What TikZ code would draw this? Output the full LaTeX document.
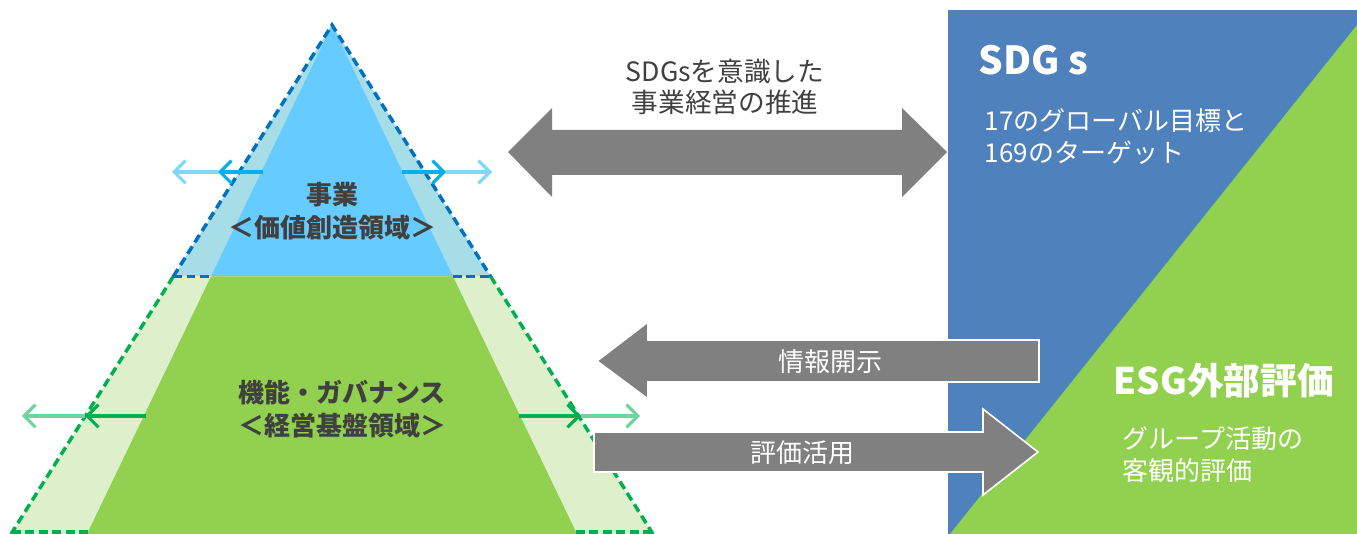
\documentclass[tikz,border=0pt]{standalone}
\usepackage{fontspec}
\setmainfont{Noto Sans CJK JP}
\usetikzlibrary{arrows.meta}
\definecolor{txtgray}{HTML}{404040}
\definecolor{arrgray}{HTML}{808080}
\definecolor{lightteal}{HTML}{A6DDE6}
\definecolor{skyblue}{HTML}{66CCFF}
\definecolor{lightgreen}{HTML}{DEEFCC}
\definecolor{leafgreen}{HTML}{92D050}
\definecolor{dashblue}{HTML}{0070C0}
\definecolor{dashgreen}{HTML}{00B050}
\definecolor{arrblue}{HTML}{00B0F0}
\definecolor{arrbluelt}{HTML}{80D8F8}
\definecolor{arrgreen}{HTML}{00B050}
\definecolor{arrgreenlt}{HTML}{70D49C}
\definecolor{sdgblue}{HTML}{4F81BD}
\begin{document}
\begin{tikzpicture}[x=0.75pt,y=-0.75pt,
  dashline/.style={line width=2.6pt,dash pattern=on 6.5pt off 3.6pt},
  smallarrow/.style={line width=2.3pt,-{Straight Barb[length=8.5pt,width=17pt,line width=2.3pt]}},
  pyrtext/.style={text=txtgray,font=\bfseries\fontsize{19.5pt}{24.75pt}\selectfont,align=center},
  toptext/.style={text=txtgray,font=\fontsize{20pt}{23.5pt}\selectfont,align=center},
  arrtext/.style={text=white,font=\fontsize{19.5pt}{24pt}\selectfont},
  paneltext/.style={text=white,font=\fontsize{19.5pt}{24pt}\selectfont,align=left,anchor=west},
  bigarrow/.style={fill=arrgray,draw=white,line width=1.2pt}
]
\useasboundingbox (0,0) rectangle (1357,534);
\begin{scope}
\clip (0,0) rectangle (1357,534);
% pyramid coordinates
\coordinate (apex) at (332,25);
\coordinate (oL) at (173.3,276.5);
\coordinate (oR) at (490.7,276.5);
\coordinate (iL) at (211,276.5);
\coordinate (iR) at (453,276.5);
\coordinate (obL) at (11,534);
\coordinate (obR) at (653,534);
\coordinate (ibL) at (87,534);
\coordinate (ibR) at (577,534);
% light outer fills
\fill[lightteal] (apex) -- (oL) -- (oR) -- cycle;
\fill[lightgreen] (oL) -- (obL) -- (obR) -- (oR) -- cycle;
% inner fills
\fill[skyblue] (apex) -- (iL) -- (iR) -- cycle;
\fill[leafgreen] (iL) -- (ibL) -- (ibR) -- (iR) -- cycle;
% dashed outlines
\draw[dashline,dashgreen] (oL) -- (obL);
\draw[dashline,dashgreen] (oR) -- (obR);
\draw[dashline,dashgreen] (12,532) -- (88,532);
\draw[dashline,dashgreen] (576,532) -- (652,532);
\draw[dashline,dashblue] (oL) -- (apex) -- (oR);
\draw[dashline,dashblue] (oL) -- (iL);
\draw[dashline,dashblue] (iR) -- (oR);
\end{scope}
% small arrows (blue)
\coordinate (b1) at (263,172); \coordinate (b2) at (218,172); \coordinate (b3) at (172,172);
\coordinate (b4) at (402,172); \coordinate (b5) at (446,172); \coordinate (b6) at (492,172);
\draw[smallarrow,arrbluelt] (b2) -- (b3);
\draw[smallarrow,arrblue] (b1) -- (b2);
\draw[smallarrow,arrbluelt] (b5) -- (b6);
\draw[smallarrow,arrblue] (b4) -- (b5);
% small arrows (green)
\coordinate (g1) at (146,416); \coordinate (g2) at (85,416); \coordinate (g3) at (22,416);
\coordinate (g4) at (519,416); \coordinate (g5) at (581,416); \coordinate (g6) at (640,416);
\draw[smallarrow,arrgreenlt] (g2) -- (g3);
\draw[smallarrow,arrgreen] (g1) -- (g2);
\draw[smallarrow,arrgreenlt] (g5) -- (g6);
\draw[smallarrow,arrgreen] (g4) -- (g5);
% pyramid texts
\node[pyrtext] (biz) at (332,211) {事業\\＜価値創造領域＞};
\node[pyrtext] (gov) at (342,409) {機能・ガバナンス\\＜経営基盤領域＞};
% right panel
\fill[sdgblue] (948,10) rectangle (1357,534);
\fill[leafgreen] (1357,25) -- (1357,534) -- (950,534) -- cycle;
\node[text=white,font=\bfseries\fontsize{29pt}{30pt}\selectfont,anchor=west] (sdg) at (974,60) {SDG s};
\node[paneltext] (sdgtxt) at (980,137) {17のグローバル目標と\\169のターゲット};
\node[text=white,font=\bfseries\fontsize{27.5pt}{30pt}\selectfont,anchor=west] (esg) at (1109,381) {ESG外部評価};
\node[paneltext] (esgtxt) at (1118,455) {グループ活動の\\客観的評価};
% big gray arrows
\fill[arrgray] (508,152) -- (552,108) -- (552,130) -- (902,130) -- (902,108) -- (947,152) -- (902,197) -- (902,175) -- (552,175) -- (552,197) -- cycle;
\node[toptext] (sdgtop) at (725,87) {SDGsを意識した\\事業経営の推進};
\draw[bigarrow] (597,361) -- (648,322) -- (648,340) -- (1039,340) -- (1039,382) -- (648,382) -- (648,399) -- cycle;
\node[arrtext] (info) at (830,362) {情報開示};
\draw[bigarrow] (594,432) -- (983,432) -- (983,409) -- (1038,452) -- (983,495) -- (983,472) -- (594,472) -- cycle;
\node[arrtext] (eval) at (802,453) {評価活用};
\end{tikzpicture}
\end{document}
